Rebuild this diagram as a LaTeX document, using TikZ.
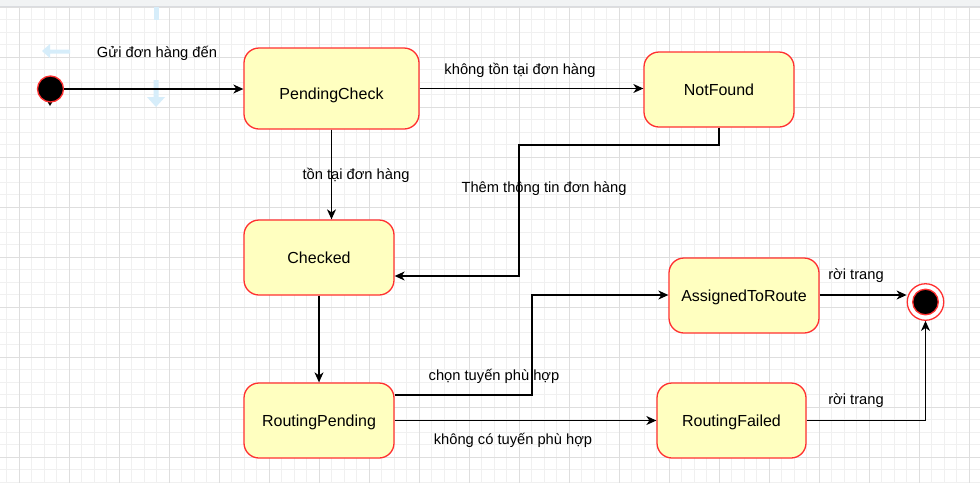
\documentclass[tikz,border=0pt]{standalone}
\usepackage{fontspec}
\setmainfont{Liberation Sans}
\usetikzlibrary{arrows.meta}
\definecolor{statefill}{HTML}{FFFFC0}
\definecolor{stateline}{HTML}{FF3030}
\definecolor{gridminor}{HTML}{F0F0F0}
\definecolor{gridmajor}{HTML}{DEDEDE}
\definecolor{topbar}{HTML}{F1F3F4}
\definecolor{topline}{HTML}{DADCE0}
\definecolor{hoverblue}{HTML}{D6EDFA}
\tikzset{
  statebox/.style={draw=stateline, fill=statefill, line width=1.3pt, rounded corners=15pt,
    inner sep=0pt, text height=11.5pt, text depth=0pt, font=\fontsize{16pt}{19pt}\selectfont},
  edge/.style={draw=black, line width=1.2pt, -{Stealth[length=10pt,width=9pt,inset=3pt]}},
  elabel/.style={font=\fontsize{14.7pt}{17pt}\selectfont, inner sep=0pt, text height=12pt, text depth=0pt},
  minorline/.style={draw=gridminor, line width=0.8pt},
  majorline/.style={draw=gridmajor, line width=0.8pt},
}
\begin{document}
\begin{tikzpicture}[x=1pt,y=-1pt]
\useasboundingbox (0,0) rectangle (980,483);
\fill[white] (0,0) rectangle (980,483);
% grid
\foreach \i in {0,...,78} {\draw[minorline] ({6.5+12.5*\i},7) -- ({6.5+12.5*\i},483);}
\foreach \j in {0,...,38} {\draw[minorline] (0,{7+12.5*\j}) -- (980,{7+12.5*\j});}
\foreach \i in {0,...,19} {\draw[majorline] ({19+50*\i},7) -- ({19+50*\i},483);}
\foreach \j in {0,...,9} {\draw[majorline] (0,{7+50*\j}) -- (980,{7+50*\j});}
% top bar
\fill[topbar] (0,0) rectangle (980,6.5);
\draw[topline, line width=0.8pt] (0,6.5) -- (980,6.5);
% hover arrows
\fill[hoverblue] (42,51) -- (50,44) -- (50,49.5) -- (70,49.5) -- (70,53.5) -- (50,53.5) -- (50,58) -- cycle;
\fill[hoverblue] (153.5,7) rectangle (158.5,20);
\fill[hoverblue] (156,107) -- (147,97) -- (153.5,97) -- (153.5,80) -- (158.5,80) -- (158.5,97) -- (165,97) -- cycle;
% states
\node[statebox, minimum width=175pt, minimum height=81pt] (pc) at (331.5,88.5) {\raisebox{-5pt}{PendingCheck}};
\node[statebox, minimum width=150pt, minimum height=75pt] (nf) at (719,89.5) {NotFound};
\node[statebox, minimum width=150pt, minimum height=75pt] (ck) at (319,257.5) {Checked};
\node[statebox, minimum width=150pt, minimum height=75pt] (ar) at (744,295.5) {AssignedToRoute};
\node[statebox, minimum width=150pt, minimum height=75pt] (rp) at (319,420.5) {RoutingPending};
\node[statebox, minimum width=149pt, minimum height=75pt] (rf) at (731.5,420.5) {RoutingFailed};
% initial
\fill[black] (46.5,100) -- (53.5,100) -- (50,106) -- cycle;
\node[circle, fill=black, draw=stateline, line width=1.3pt, minimum size=26pt, inner sep=0pt] (init) at (50.5,89) {};
% final
\node[circle, fill=white, draw=stateline, line width=1.3pt, minimum size=36.5pt, inner sep=0pt] (fin) at (925.5,302) {};
\filldraw[fill=black, draw=stateline, line width=1.3pt] (fin.center) circle (12.8pt);
% edges
\draw[edge] (init.east) -- (init.east -| pc.west);
\draw[edge] (pc.east) -- (pc.east -| nf.west);
\draw[edge] (pc.south) -- (pc.south |- ck.north);
\coordinate (b1) at (519,145);
\draw[edge] (nf.south) |- (b1) |- (ck.east |- 0,276);
\draw[edge] (ck.south) -- (ck.south |- rp.north);
\coordinate (b2) at (532,295);
\draw[edge] (rp.east |- 0,395) -| (b2) -- (b2 -| ar.west);
\draw[edge] (rp.east) -- (rp.east -| rf.west);
\draw[edge] (ar.east |- 0,295) -- (fin.west |- 0,295);
\draw[edge] (rf.east) -| (fin.south);
% labels
\node[elabel] (l1) at (157,51) {Gửi đơn hàng đến};
\node[elabel] (l2) at (520,68) {không tồn tại đơn hàng};
\node[elabel] (l3) at (356,173) {tồn tại đơn hàng};
\node[elabel] (l4) at (544,186) {Thêm thông tin đơn hàng};
\node[elabel] (l5) at (494,374) {chọn tuyến phù hợp};
\node[elabel] (l6) at (513,438) {không có tuyến phù hợp};
\node[elabel] (l7) at (856,273) {rời trang};
\node[elabel] (l8) at (856,398) {rời trang};
\end{tikzpicture}
\end{document}
